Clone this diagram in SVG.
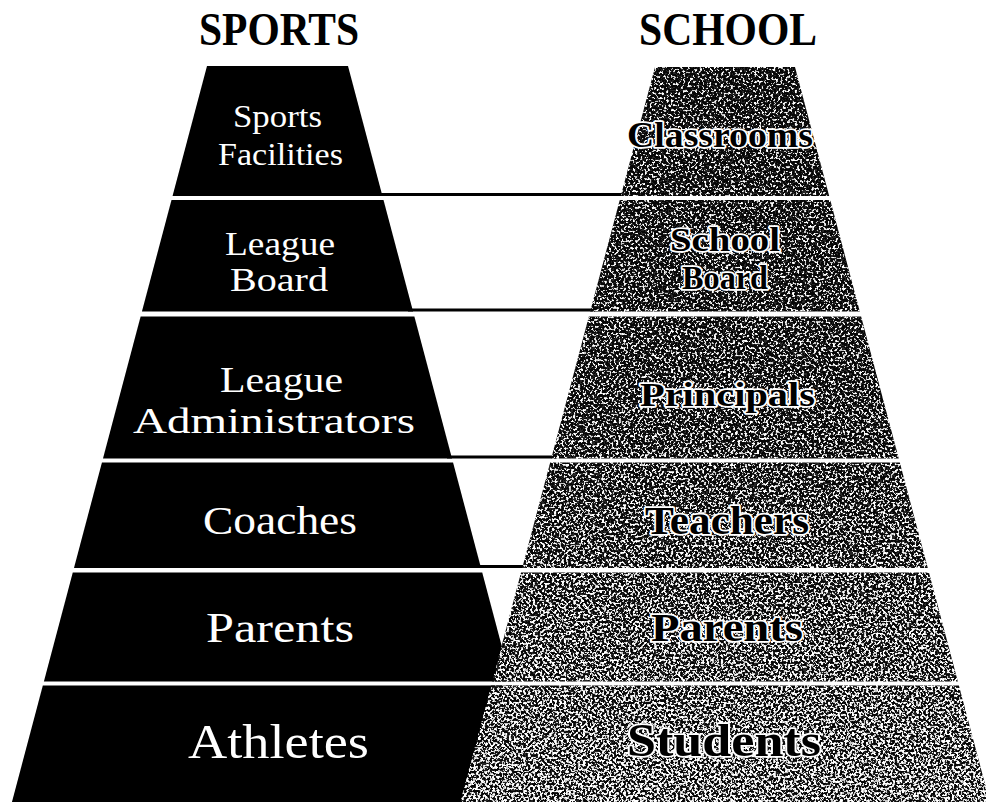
<svg xmlns="http://www.w3.org/2000/svg" width="986" height="802" viewBox="0 0 986 802">
<defs>
<linearGradient id="gg" gradientUnits="userSpaceOnUse" x1="0" y1="67" x2="0" y2="802">
<stop offset="0" stop-color="#3a3a3a"/>
<stop offset="0.45" stop-color="#4a4a4a"/>
<stop offset="1" stop-color="#808080"/>
</linearGradient>
<filter id="grain" x="0" y="0" width="1" height="1" color-interpolation-filters="sRGB">
<feTurbulence type="fractalNoise" baseFrequency="0.42" numOctaves="2" seed="7" result="n"/>
<feColorMatrix in="n" type="matrix" values="1 0 0 0 0  1 0 0 0 0  1 0 0 0 0  0 0 0 0 1" result="g"/>
<feComposite in="g" in2="SourceGraphic" operator="arithmetic" k1="0" k2="3" k3="1" k4="-1.5" result="m"/>
<feComponentTransfer in="m" result="t">
<feFuncR type="discrete" tableValues="0.03 0.15 0.78 1"/>
<feFuncG type="discrete" tableValues="0.03 0.15 0.78 1"/>
<feFuncB type="discrete" tableValues="0.03 0.15 0.78 1"/>
<feFuncA type="linear" slope="0" intercept="1"/>
</feComponentTransfer>
<feComposite in="t" in2="SourceGraphic" operator="in"/>
</filter>
</defs>
<style>
.blk{fill:#000}
.gry{fill:url(#gg)}
.lt{font-family:"Liberation Serif","Times New Roman",serif;fill:#fff;text-anchor:middle}
.rt{font-family:"Liberation Serif","Times New Roman",serif;font-weight:bold;fill:#000;stroke:#fff;stroke-width:3.5;paint-order:stroke;stroke-linejoin:round;text-anchor:middle}
.title{font-family:"Liberation Serif","Times New Roman",serif;font-weight:bold;font-size:46px;fill:#000;text-anchor:middle}
.conn{stroke:#000;stroke-width:3;fill:none}
</style>
<rect x="0" y="0" width="986" height="802" fill="#fff"/>

<g id="titles">
<text class="title" x="279" y="45" textLength="160" lengthAdjust="spacingAndGlyphs">SPORTS</text>
<text class="title" x="728" y="45" textLength="178" lengthAdjust="spacingAndGlyphs">SCHOOL</text>
</g>

<g id="connectors">
<line class="conn" x1="378" y1="194.5" x2="625" y2="194.5"/>
<line class="conn" x1="408" y1="310" x2="595" y2="310"/>
<line class="conn" x1="447" y1="457" x2="556" y2="457"/>
<line class="conn" x1="476" y1="566.5" x2="528" y2="566.5"/>
</g>

<g id="sports">
<g id="sports-facilities">
<polygon class="blk" points="207,66 348,66 382.45,196 172.55,196"/>
<text class="lt" x="277.5" y="127" font-size="31" textLength="89" lengthAdjust="spacingAndGlyphs">Sports</text>
<text class="lt" x="280.5" y="165" font-size="31" textLength="125" lengthAdjust="spacingAndGlyphs">Facilities</text>
</g>
<g id="league-board">
<polygon class="blk" points="171.49,200 383.51,200 413.06,311.5 141.94,311.5"/>
<text class="lt" x="280" y="255" font-size="33" textLength="110" lengthAdjust="spacingAndGlyphs">League</text>
<text class="lt" x="279" y="291" font-size="33" textLength="98" lengthAdjust="spacingAndGlyphs">Board</text>
</g>
<g id="league-administrators">
<polygon class="blk" points="140.62,316.5 414.38,316.5 452.01,458.5 102.99,458.5"/>
<text class="lt" x="281.5" y="392" font-size="36" textLength="123" lengthAdjust="spacingAndGlyphs">League</text>
<text class="lt" x="274" y="433" font-size="36" textLength="282" lengthAdjust="spacingAndGlyphs">Administrators</text>
</g>
<g id="coaches">
<polygon class="blk" points="101.93,462.5 453.07,462.5 481.03,568 73.97,568"/>
<text class="lt" x="280" y="534" font-size="41" textLength="154" lengthAdjust="spacingAndGlyphs">Coaches</text>
</g>
<g id="sports-parents">
<polygon class="blk" points="72.78,572.5 482.22,572.5 511.11,681.5 43.89,681.5"/>
<text class="lt" x="280" y="642" font-size="43" textLength="148" lengthAdjust="spacingAndGlyphs">Parents</text>
</g>
<g id="athletes">
<polygon class="blk" points="42.83,685.5 512.17,685.5 543.04,802 11.96,802"/>
<text class="lt" x="278.5" y="758" font-size="49" textLength="181" lengthAdjust="spacingAndGlyphs">Athletes</text>
</g>
</g>

<g id="school">
<g id="classrooms">
<polygon class="gry" filter="url(#grain)" points="655,67 795,67 829.18,196 620.82,196"/>
<text class="rt" x="720" y="147" font-size="35" textLength="186" lengthAdjust="spacingAndGlyphs">Classrooms</text>
</g>
<g id="school-board">
<polygon class="gry" filter="url(#grain)" points="619.76,200 830.25,200 859.79,311.5 590.21,311.5"/>
<text class="rt" x="725" y="251" font-size="34" textLength="110" lengthAdjust="spacingAndGlyphs">School</text>
<text class="rt" x="725" y="289" font-size="34" textLength="86" lengthAdjust="spacingAndGlyphs">Board</text>
</g>
<g id="principals">
<polygon class="gry" filter="url(#grain)" points="588.88,316.5 861.12,316.5 898.75,458.5 551.25,458.5"/>
<text class="rt" x="727.5" y="406" font-size="34" textLength="175" lengthAdjust="spacingAndGlyphs">Principals</text>
</g>
<g id="teachers">
<polygon class="gry" filter="url(#grain)" points="550.19,462.5 899.81,462.5 927.77,568 522.24,568"/>
<text class="rt" x="727" y="534" font-size="40" textLength="164" lengthAdjust="spacingAndGlyphs">Teachers</text>
</g>
<g id="school-parents">
<polygon class="gry" filter="url(#grain)" points="521.04,572.5 928.96,572.5 957.84,681.5 492.16,681.5"/>
<text class="rt" x="727" y="641" font-size="41" textLength="152" lengthAdjust="spacingAndGlyphs">Parents</text>
</g>
<g id="students">
<polygon class="gry" filter="url(#grain)" points="491.1,685.5 958.9,685.5 989.78,802 460.23,802"/>
<text class="rt" x="724" y="756" font-size="46" textLength="194" lengthAdjust="spacingAndGlyphs">Students</text>
</g>
</g>
</svg>
